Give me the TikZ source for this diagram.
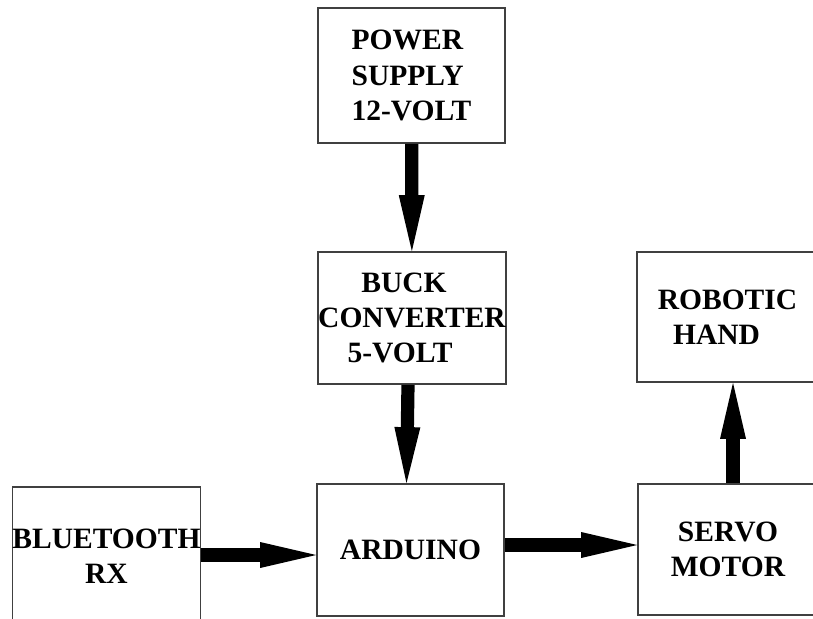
\documentclass[tikz,border=0pt]{standalone}
\usepackage{fontspec}
\setmainfont{Liberation Serif}
\usetikzlibrary{positioning, arrows.meta}

\begin{document}
\begin{tikzpicture}[x=0.025cm, y=-0.025cm,
  block/.style={rectangle, draw=black!75, line width=1.2pt, inner sep=0pt,
    font=\fontsize{21}{25}\selectfont\bfseries},
  bigarrow/.style={-{Triangle[length=1.4cm, width=0.65cm, line width=0pt]}, line width=0.33cm}]
\clip (0,0) rectangle (813,618);

% Supply chain
\node[block, minimum width=4.675cm, minimum height=3.375cm, align=left] (supply) at (411.5,75.5) {POWER\\SUPPLY\\12-VOLT};

\node[block, minimum width=4.6cm, minimum height=3.3cm, align=center] (buck) at (412,318) {BUCK\hspace*{0.4cm}\\CONVERTER\\5-VOLT\hspace*{0.6cm}};

% Bottom row
\node[block, minimum width=4.675cm, minimum height=3.45cm, align=center] (bluetooth) at (106.5,556) {BLUETOOTH\\RX};

\node[block, minimum width=4.675cm, minimum height=3.3cm] (arduino) at (410.5,550) {ARDUINO};

\node[block, minimum width=4.5cm, minimum height=3.275cm, align=center] (servo) at (728,549.5) {SERVO\\MOTOR};

\node[block, minimum width=4.525cm, minimum height=3.25cm, align=center] (hand) at (727.5,317) {ROBOTIC\\HAND\hspace*{0.55cm}};

\draw[bigarrow] (supply) -- (buck);
\draw[bigarrow] ([xshift=-0.1cm]buck.south) -- ([xshift=-0.1cm]arduino.north);
\draw[bigarrow] (bluetooth.east |- 0,555) -- (arduino.west |- 0,555);
\draw[bigarrow] (arduino.east |- 0,545) -- (servo.west |- 0,545);
\draw[bigarrow] (servo.north -| 733,0) -- (hand.south -| 733,0);

\end{tikzpicture}
\end{document}
